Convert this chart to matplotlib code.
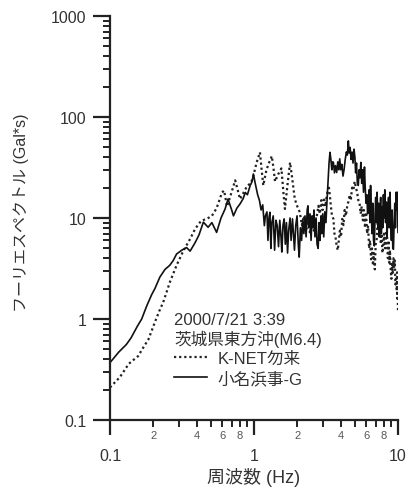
import matplotlib
matplotlib.use("Agg")
import matplotlib.pyplot as plt
from matplotlib.ticker import FixedLocator, FixedFormatter, NullFormatter

plt.rcParams['font.family'] = ['Liberation Sans', 'Noto Sans CJK JP', 'DejaVu Sans']

# 小名浜事-G (solid)
freq_onahama = [
    0.100, 0.115, 0.130, 0.140, 0.155, 0.166, 0.180, 0.195, 0.205, 0.222,
    0.241, 0.260, 0.275, 0.290, 0.315, 0.340, 0.360, 0.390, 0.415, 0.445,
    0.480, 0.510, 0.550, 0.590, 0.630, 0.660, 0.700, 0.720, 0.760, 0.800,
    0.840, 0.870, 0.900, 0.940, 0.970,
    0.990, 1.020, 1.060, 1.090, 1.120, 1.150, 1.180, 1.200, 1.230, 1.250,
    1.270, 1.290, 1.310, 1.330, 1.360, 1.390, 1.420, 1.450, 1.480, 1.510,
    1.540, 1.560, 1.590, 1.620, 1.650, 1.680, 1.710, 1.740, 1.780, 1.810,
    1.850, 1.880, 1.910, 1.950, 1.990, 2.030, 2.060, 2.100, 2.140, 2.180,
    2.220, 2.260, 2.300, 2.340, 2.370, 2.400, 2.450, 2.490, 2.530, 2.570,
    2.610, 2.650, 2.700, 2.740, 2.790, 2.830, 2.870, 2.920, 2.960, 3.000,
    3.050, 3.100, 3.160, 3.200, 3.260, 3.320, 3.370, 3.420, 3.470, 3.520,
    3.560, 3.620, 3.680, 3.750, 3.820, 3.880, 3.940, 4.000, 4.070, 4.150,
    4.220, 4.300, 4.380, 4.450, 4.520, 4.580, 4.650, 4.720, 4.800, 4.870,
    4.950, 5.020, 5.080, 5.150, 5.220, 5.300, 5.370, 5.450, 5.520, 5.600,
    5.680, 5.760, 5.850, 5.920, 6.000, 6.080, 6.150, 6.220, 6.300, 6.380,
    6.450, 6.520, 6.600, 6.680, 6.760, 6.850, 6.930, 7.000, 7.080, 7.160,
    7.250, 7.330, 7.420, 7.500, 7.580, 7.660, 7.750, 7.830, 7.920, 8.000,
    8.100, 8.200, 8.300, 8.400, 8.500, 8.600, 8.700, 8.800, 8.900, 9.000,
    9.100, 9.200, 9.300, 9.400, 9.500, 9.600, 9.700, 9.800, 9.900, 9.950,
    10.000]
amp_onahama = [
    0.37, 0.47, 0.56, 0.65, 0.85, 1.0, 1.35, 1.75, 2.0, 2.6,
    3.1, 3.4, 3.8, 4.4, 4.8, 5.1, 4.7, 5.7, 6.8, 9.1,
    8.1, 9.0, 7.2, 10.0, 12.3, 15.4, 12.0, 10.5, 12.5, 13.8,
    15.5, 17.9, 17.0, 20.9, 23.0,
    27.3, 22.0, 17.0, 15.0, 12.0, 13.5, 8.4, 10.5, 11.5, 6.0,
    10.0, 11.4, 5.0, 9.0, 10.5, 4.8, 9.5, 8.4, 5.2, 9.5,
    6.5, 4.6, 8.5, 9.8, 5.5, 9.0, 4.5, 7.5, 10.0, 6.0,
    9.8, 7.0, 4.8, 8.5, 10.5, 5.5, 4.1, 8.0, 6.0, 9.5,
    7.0, 10.5, 6.5, 12.0, 13.2, 8.0, 11.0, 6.0, 10.5, 8.0,
    12.0, 6.5, 10.0, 5.5, 5.0, 9.0, 6.0, 10.5, 7.0, 11.0,
    6.5, 11.5, 9.0, 13.2, 22.0, 35.0, 44.7, 38.0, 30.0, 36.0,
    35.5, 28.0, 33.0, 28.2, 36.0, 30.0, 38.5, 30.0, 34.0, 26.0,
    30.0, 38.0, 45.0, 42.0, 58.0, 44.0, 50.0, 38.0, 45.0, 35.0,
    48.0, 40.0, 28.0, 35.0, 22.0, 21.0, 30.0, 25.0, 35.5, 22.0,
    30.0, 18.0, 32.0, 20.0, 14.0, 17.0, 11.0, 13.2, 19.0, 9.0,
    21.0, 12.0, 7.0, 14.0, 6.0, 5.3, 11.0, 16.0, 9.0, 18.0,
    8.0, 14.0, 6.5, 12.0, 16.0, 7.0, 13.0, 8.0, 17.0, 10.0,
    19.0, 9.0, 14.4, 6.5, 12.0, 16.0, 8.0, 18.0, 9.0, 6.0,
    12.0, 5.0, 4.9, 9.0, 14.0, 8.0, 18.0, 12.0, 18.0, 10.0,
    7.2]

# K-NET勿来 (dotted)
freq_nakoso = [
    0.100, 0.117, 0.135, 0.157, 0.170, 0.185, 0.205, 0.220, 0.234, 0.260,
    0.290, 0.320, 0.360, 0.390, 0.430, 0.470, 0.510, 0.550, 0.600, 0.620,
    0.650, 0.690, 0.740, 0.800, 0.850, 0.900, 0.950, 0.990, 1.040, 1.100,
    1.130, 1.160, 1.220, 1.280, 1.330, 1.370, 1.400, 1.470, 1.550, 1.600,
    1.640, 1.700, 1.780, 1.840, 1.920,
    2.000, 2.080, 2.150, 2.220, 2.300, 2.380, 2.450, 2.520, 2.600, 2.680,
    2.750, 2.800, 2.870, 2.930, 3.000, 3.060, 3.130, 3.200, 3.260, 3.300,
    3.360, 3.420, 3.480, 3.560, 3.620, 3.680, 3.750, 3.820, 3.880, 3.950,
    4.020, 4.100, 4.180, 4.260, 4.350, 4.450, 4.520, 4.620, 4.700, 4.800,
    4.900, 5.000, 5.100, 5.200, 5.300, 5.400, 5.500, 5.600, 5.700, 5.800,
    5.900, 6.000, 6.100, 6.200, 6.300, 6.400, 6.500, 6.600, 6.700, 6.800,
    6.900, 7.000, 7.100, 7.200, 7.300, 7.400, 7.500, 7.600, 7.700, 7.800,
    7.900, 8.000, 8.150, 8.300, 8.400, 8.500, 8.600, 8.700, 8.800, 8.900,
    9.000, 9.100, 9.200, 9.300, 9.400, 9.500, 9.600, 9.700, 9.800, 9.850,
    9.900, 9.950, 10.000]
amp_nakoso = [
    0.21, 0.265, 0.36, 0.43, 0.52, 0.63, 0.93, 1.2, 1.46, 2.3,
    3.4, 4.6, 6.2, 7.8, 9.4, 9.8, 10.5, 12.5, 17.9, 18.7,
    13.0, 17.0, 23.6, 15.4, 18.0, 21.0, 22.0, 26.0, 35.0, 44.7,
    30.0, 21.0, 30.0, 36.0, 41.0, 30.0, 23.0, 27.0, 31.0, 18.0,
    12.3, 20.0, 35.5, 25.0, 15.4,
    13.0, 11.4, 8.5, 10.5, 7.5, 9.5, 7.0, 10.0, 7.5, 9.5,
    11.0, 13.2, 11.0, 15.0, 12.0, 16.0, 13.0, 16.6, 19.0, 21.0,
    17.0, 13.0, 10.5, 9.8, 7.0, 6.5, 5.3, 4.8, 6.0, 7.5,
    6.5, 9.8, 8.5, 12.0, 10.5, 13.5, 14.4, 17.0, 15.0, 20.0,
    19.0, 23.0, 20.0, 18.0, 15.0, 14.4, 11.0, 13.0, 9.5, 12.0,
    8.0, 11.4, 7.0, 8.4, 5.0, 6.0, 3.9, 5.0, 3.4, 4.5,
    3.1, 5.5, 6.0, 8.5, 9.8, 6.5, 8.0, 5.5, 7.0, 4.5,
    5.3, 7.0, 5.0, 7.5, 6.5, 4.0, 6.0, 3.6, 4.8, 3.0,
    2.5, 3.5, 2.8, 4.0, 3.2, 3.8, 2.2, 2.5, 1.9, 2.9,
    1.6, 2.0, 1.2]

event_date = "2000/7/21 3:39"
event_name = "茨城県東方沖(M6.4)"
label_nakoso = "K-NET勿来"
label_onahama = "小名浜事-G"

y_major = [0.1, 1, 10, 100, 1000]
y_major_labels = ["0.1", "1", "10", "100", "1000"]
x_major = [0.1, 1, 10]
x_major_labels = ["0.1", "1", "10"]
x_minor = [m * d for d in (0.1, 1) for m in range(2, 10)]
x_minor_labels = [str(m) if m in (2, 4, 6, 8) else "" for d in (0.1, 1) for m in range(2, 10)]
y_minor = [m * d for d in (0.1, 1, 10, 100) for m in range(2, 10)]

text_color = "#333333"

fig = plt.figure(figsize=(4.09, 4.89), dpi=100)
ax = fig.add_axes([110 / 409, 68 / 489, 288 / 409, 404 / 489])

ln_dot, = ax.plot(freq_nakoso, amp_nakoso, color="#222222", lw=1.6,
                  linestyle=(0, (1.0, 1.3)), label=label_nakoso)
ln_sol, = ax.plot(freq_onahama, amp_onahama, color="#111111", lw=1.2,
                  label=label_onahama)

ax.set_xscale("log")
ax.set_yscale("log")
ax.set_xlim(0.1, 10)
ax.set_ylim(0.1, 1000)

ax.xaxis.set_major_locator(FixedLocator(x_major))
ax.xaxis.set_major_formatter(FixedFormatter(x_major_labels))
ax.xaxis.set_minor_locator(FixedLocator(x_minor))
ax.xaxis.set_minor_formatter(FixedFormatter(x_minor_labels))
ax.yaxis.set_major_locator(FixedLocator(y_major))
ax.yaxis.set_major_formatter(FixedFormatter(y_major_labels))
ax.yaxis.set_minor_locator(FixedLocator(y_minor))
ax.yaxis.set_minor_formatter(NullFormatter())

for side in ("top", "right"):
    ax.spines[side].set_visible(False)
for side in ("left", "bottom"):
    ax.spines[side].set_linewidth(1.6)
    ax.spines[side].set_color("#222222")

ax.tick_params(axis="both", which="major", direction="out", length=11, width=1.6,
               color="#222222", labelcolor=text_color, labelsize=11.5)
ax.tick_params(axis="both", which="minor", direction="out", length=5, width=1.4,
               color="#222222")
ax.tick_params(axis="y", which="major", length=12, pad=5)
ax.tick_params(axis="x", which="major", pad=9)
ax.tick_params(axis="x", which="minor", pad=2, labelsize=8, labelcolor="#555555")

ax.set_xlabel("周波数 (Hz)", fontsize=13, color=text_color, va="center")
ax.xaxis.set_label_coords(0.5, -0.141)
ax.set_ylabel("フーリエスペクトル (Gal*s)", fontsize=11.5, color=text_color, va="center")
ax.yaxis.set_label_coords(-0.31, 0.515)

leg = ax.legend(handles=[ln_dot, ln_sol], labels=[label_nakoso, label_onahama],
                title=event_date + "\n" + event_name, title_fontsize=12, fontsize=12,
                loc="upper left", bbox_to_anchor=(174 / 409, 1 - 313 / 489),
                bbox_transform=fig.transFigure, frameon=False, alignment="left",
                handlelength=2.0, handletextpad=0.6, labelspacing=0.25,
                borderpad=0, borderaxespad=0)
leg.get_title().set_color(text_color)
for t in leg.get_texts():
    t.set_color(text_color)

fig.savefig("out.png", dpi=100)
